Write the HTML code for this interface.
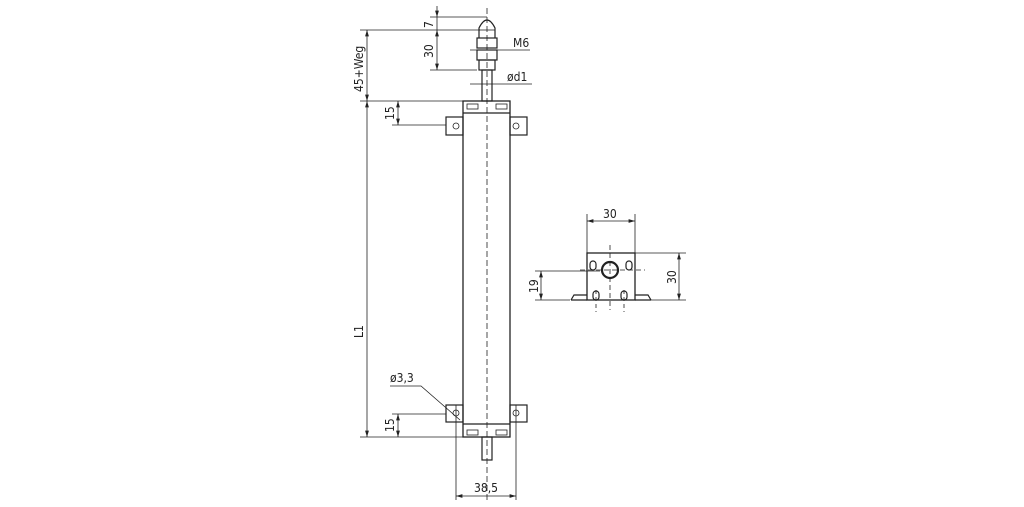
<!DOCTYPE html><html><head><style>body{margin:0;background:#fff}svg{display:block}text{font-family:"DejaVu Sans Condensed","DejaVu Sans","Liberation Sans",sans-serif;font-size:12px;fill:#222}</style></head><body>
<svg width="1024" height="507" viewBox="0 0 1024 507" xmlns="http://www.w3.org/2000/svg">
<defs><marker id="a" viewBox="0 0 10 6" refX="10" refY="3" markerWidth="8" markerHeight="5" orient="auto-start-reverse"><path d="M0,0L10,3L0,6z" fill="#222"/></marker></defs>
<g stroke="#222" fill="none" stroke-width="0.8">
<!-- dims left -->
<line x1="360" y1="30" x2="480" y2="30"/><line x1="360" y1="101" x2="463" y2="101"/><line x1="360" y1="437" x2="463" y2="437"/>
<line x1="367" y1="30" x2="367" y2="101" marker-start="url(#a)" marker-end="url(#a)"/>
<line x1="367" y1="101" x2="367" y2="437" marker-start="url(#a)" marker-end="url(#a)"/>
<line x1="392" y1="125" x2="446" y2="125"/><line x1="392" y1="414" x2="446" y2="414"/>
<line x1="398" y1="101" x2="398" y2="125" marker-start="url(#a)" marker-end="url(#a)"/>
<line x1="398" y1="414" x2="398" y2="437" marker-start="url(#a)" marker-end="url(#a)"/>
<line x1="430" y1="17" x2="487" y2="17"/><line x1="430" y1="70" x2="477" y2="70"/>
<line x1="437" y1="6" x2="437" y2="17" marker-end="url(#a)"/><line x1="437" y1="17" x2="437" y2="30"/>
<line x1="437" y1="30" x2="437" y2="70" marker-start="url(#a)" marker-end="url(#a)"/>
<line x1="470" y1="50" x2="530" y2="50"/><line x1="470" y1="84" x2="532" y2="84"/>
<line x1="456" y1="405" x2="456" y2="500"/><line x1="516" y1="405" x2="516" y2="500"/>
<line x1="456" y1="496" x2="516" y2="496" marker-start="url(#a)" marker-end="url(#a)"/>
<path d="M390 386H421L460 420"/>
<!-- body -->
<rect x="463" y="101" width="47" height="336" stroke-width="1.3"/>
<line x1="463" y1="113" x2="510" y2="113" stroke-width="1.2"/><line x1="463" y1="424" x2="510" y2="424" stroke-width="1.2"/>
<rect x="482" y="70" width="10" height="31" stroke-width="1.2"/>
<rect x="477" y="38" width="20" height="10" stroke-width="1.2"/><rect x="477" y="50" width="20" height="10" stroke-width="1.2"/><rect x="479" y="60" width="16" height="10" stroke-width="1.2"/>
<path d="M479 38V28Q487 12 495 28V38" stroke-width="1.2"/><line x1="479" y1="30" x2="495" y2="30"/>
<rect x="482" y="437" width="10" height="23" stroke-width="1.2"/>
<rect x="446" y="117" width="17" height="18" stroke-width="1.2"/><rect x="510" y="117" width="17" height="18" stroke-width="1.2"/>
<rect x="446" y="405" width="17" height="17" stroke-width="1.2"/><rect x="510" y="405" width="17" height="17" stroke-width="1.2"/>
<circle cx="456" cy="126" r="3"/><circle cx="516" cy="126" r="3"/><circle cx="456" cy="413" r="3"/><circle cx="516" cy="413" r="3"/>
<rect x="467" y="104" width="11" height="5"/><rect x="496" y="104" width="11" height="5"/><rect x="467" y="430" width="11" height="5"/><rect x="496" y="430" width="11" height="5"/>
<line x1="487" y1="8" x2="487" y2="500" stroke-dasharray="6 3"/>
<!-- side view -->
<line x1="587" y1="214" x2="587" y2="253"/><line x1="635" y1="214" x2="635" y2="253"/>
<line x1="587" y1="221" x2="635" y2="221" marker-start="url(#a)" marker-end="url(#a)"/>
<line x1="635" y1="253" x2="686" y2="253"/><line x1="650" y1="300" x2="686" y2="300"/>
<line x1="679" y1="253" x2="679" y2="300" marker-start="url(#a)" marker-end="url(#a)"/>
<line x1="535" y1="271" x2="600" y2="271"/><line x1="535" y1="300" x2="570" y2="300"/>
<line x1="541" y1="271" x2="541" y2="300" marker-start="url(#a)" marker-end="url(#a)"/>
<rect x="587" y="253" width="48" height="47" stroke-width="1.3"/>
<circle cx="610" cy="270" r="8" stroke-width="2.2"/>
<rect x="590" y="261" width="6" height="9" rx="3" stroke-width="1.2"/><rect x="626" y="261" width="6" height="9" rx="3" stroke-width="1.2"/>
<rect x="593" y="291" width="6" height="9" rx="3" stroke-width="1.2"/><rect x="621" y="291" width="6" height="9" rx="3" stroke-width="1.2"/>
<path d="M571 300L574 295H587M635 295H648L651 300M571 300H587M635 300H651" stroke-width="1.2"/>
<line x1="610" y1="245" x2="610" y2="310" stroke-dasharray="5 3"/><line x1="580" y1="270" x2="645" y2="270" stroke-dasharray="5 3"/>
<line x1="596" y1="290" x2="596" y2="312" stroke-dasharray="4 3"/><line x1="624" y1="290" x2="624" y2="312" stroke-dasharray="4 3"/>
</g>
<text x="363" y="92" transform="rotate(-90 363 92)">45+Weg</text>
<text x="363" y="338" transform="rotate(-90 363 338)">L1</text>
<text x="394" y="120" transform="rotate(-90 394 120)">15</text>
<text x="394" y="432" transform="rotate(-90 394 432)">15</text>
<text x="433" y="28" transform="rotate(-90 433 28)">7</text>
<text x="433" y="58" transform="rotate(-90 433 58)">30</text>
<text x="513" y="47">M6</text>
<text x="507" y="81">ød1</text>
<text x="390" y="382">ø3,3</text>
<text x="474" y="492">38,5</text>
<text x="603" y="218">30</text>
<text x="676" y="284" transform="rotate(-90 676 284)">30</text>
<text x="538" y="293" transform="rotate(-90 538 293)">19</text>
</svg></body></html>
